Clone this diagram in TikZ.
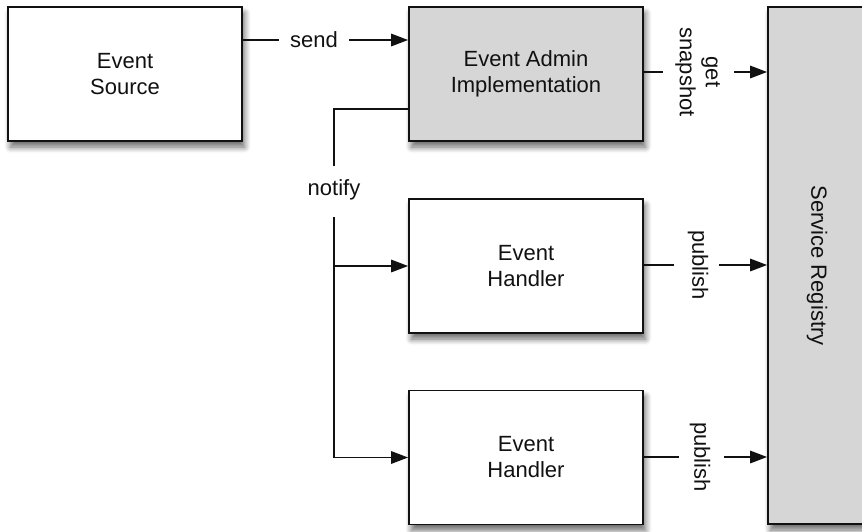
\documentclass[tikz,border=0pt]{standalone}
\usepackage{fontspec}
\usepackage{graphicx}
\setmainfont{Liberation Sans}
\usetikzlibrary{arrows.meta,shadows.blur}
\definecolor{boxgray}{HTML}{D6D6D6}
\definecolor{ink}{HTML}{111111}
\newcommand\mylblfont{\fontsize{22}{26}\selectfont}
\tikzset{
 box/.style={draw=ink, line width=1.8pt, fill=white, minimum width=234pt, minimum height=134pt,
   align=center, inner sep=0pt, font=\mylblfont, text=ink,
   blur shadow={shadow xshift=2.5pt, shadow yshift=-6pt, shadow blur radius=6pt, shadow blur steps=10, shadow opacity=60}},
 graybox/.style={box, fill=boxgray},
 lab/.style={inner sep=0pt, font=\mylblfont, text=ink},
 conn/.style={draw=ink, line width=1.6pt},
 arr/.style={conn, -{Triangle[length=17pt,width=12.5pt]}},
}
\begin{document}
\begin{tikzpicture}[x=1pt,y=-1pt]
\useasboundingbox (0,0) rectangle (862,531);
\clip (0,0) rectangle (862,531);
\node[box] (src) at (125,74) {Event\\Source};
\node[graybox] (adm) at (526,74) {Event Admin\\Implementation};
\node[box] (h1) at (526,266) {Event\\Handler};
\node[box] (h2) at (526,457.5) {Event\\Handler};
\node[graybox, minimum width=98pt, minimum height=517pt] (sr) at (817,265.5) {\rotatebox{-90}{Service Registry}};

\node[lab] (send) at (314,40) {send};
\node[lab] (notify) at (334,190) {notify};
\node[lab] (snap) at (698,72) {\rotatebox{-90}{\begin{tabular}{@{}c@{}}get\\snapshot\end{tabular}}};
\node[lab] (pub1) at (698,265) {\rotatebox{-90}{publish}};
\node[lab] (pub2) at (700,457) {\rotatebox{-90}{publish}};

\draw[conn] (send -| src.east) -- ([xshift=-11pt]send.west);
\draw[arr] ([xshift=11pt]send.east) -- (send -| adm.west);

\coordinate (nstart) at ([yshift=33pt]adm.south west);
\draw[conn] (nstart) -| ([yshift=14pt]notify.north);
\draw[arr] ([yshift=-17pt]notify.south) |- (h2.west);
\draw[arr] (h1.west -| notify.south) -- (h1.west);

\draw[conn] (snap -| adm.east) -- ([xshift=-35pt]snap.center);
\draw[arr] ([xshift=36pt]snap.center) -- (snap -| sr.west);
\draw[conn] (pub1 -| h1.east) -- ([xshift=-24pt]pub1.center);
\draw[arr] ([xshift=21pt]pub1.center) -- (pub1 -| sr.west);
\draw[conn] (pub2 -| h2.east) -- ([xshift=-21pt]pub2.center);
\draw[arr] ([xshift=24pt]pub2.center) -- (pub2 -| sr.west);
\end{tikzpicture}
\end{document}
